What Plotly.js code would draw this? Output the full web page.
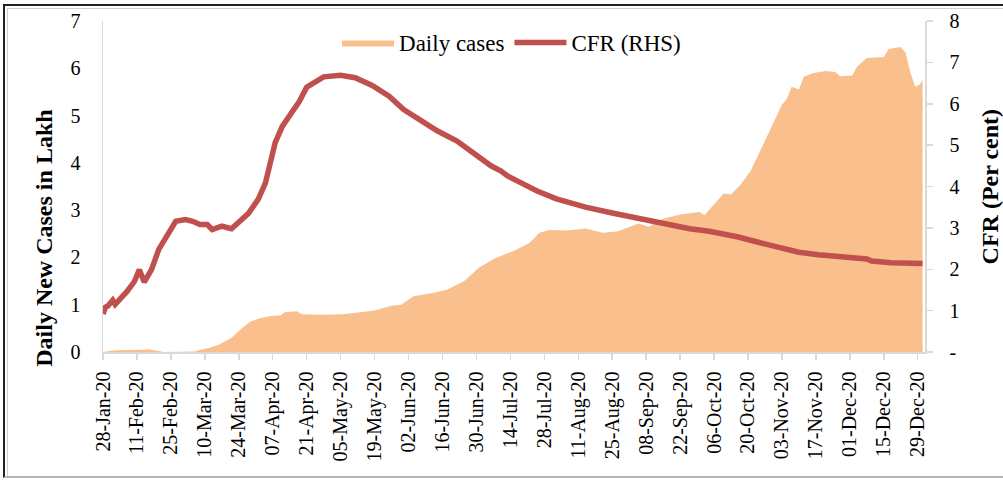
<!DOCTYPE html>
<html>
<head>
<meta charset="utf-8">
<script src="https://cdn.plot.ly/plotly-3.0.1.min.js"></script>
<style>
  html, body { margin: 0; padding: 0; background: #fff; }
  #wrap { position: relative; width: 1003px; height: 483px; }
  #chart { position: absolute; left: 0; top: 0; width: 1003px; height: 483px; }
  .frame-outer { position: absolute; left: 3px; top: 4px; width: 1000px; height: 474px;
    border-top: 2px solid #222; border-left: 2px solid #222; border-bottom: 2px solid #b5b5b5; box-sizing: border-box; pointer-events: none; }
  .frame-inner { position: absolute; left: 7px; top: 8px; width: 996px; height: 468px;
    border-top: 1px solid #cfcfcf; border-left: 1px solid #cfcfcf; box-sizing: border-box; pointer-events: none; }
</style>
</head>
<body>
<div id="wrap">
  <div id="chart"></div>
  <div class="frame-outer"></div>
  <div class="frame-inner"></div>
</div>
<script>
// ---- Data ----
const caseDates = [
  "2020-01-28","2020-02-01","2020-02-06","2020-02-10","2020-02-14","2020-02-16","2020-02-19","2020-02-22",
  "2020-03-06","2020-03-07","2020-03-12","2020-03-16","2020-03-21","2020-03-25","2020-03-29","2020-04-02",
  "2020-04-06","2020-04-10","2020-04-12","2020-04-17","2020-04-19","2020-04-28","2020-05-06","2020-05-12",
  "2020-05-19","2020-05-26","2020-05-30","2020-06-04","2020-06-12","2020-06-18","2020-06-25","2020-07-01",
  "2020-07-07","2020-07-10","2020-07-16","2020-07-22","2020-07-26","2020-07-30","2020-08-06","2020-08-14",
  "2020-08-21","2020-08-27","2020-09-01","2020-09-05","2020-09-09","2020-09-15","2020-09-22","2020-09-30",
  "2020-10-02","2020-10-06","2020-10-10","2020-10-13","2020-10-17","2020-10-21","2020-10-25","2020-10-29",
  "2020-11-03","2020-11-05","2020-11-07","2020-11-10","2020-11-12","2020-11-16","2020-11-21","2020-11-25",
  "2020-11-27","2020-12-02","2020-12-04","2020-12-08","2020-12-15","2020-12-17","2020-12-22","2020-12-24",
  "2020-12-26","2020-12-28","2020-12-30","2020-12-31"
];
const dailyCases = [
  0.00,0.03,0.04,0.04,0.05,0.06,0.03,0.00,
  0.01,0.03,0.09,0.16,0.30,0.49,0.65,0.72,
  0.76,0.77,0.84,0.86,0.80,0.79,0.80,0.83,
  0.88,0.98,1.00,1.18,1.25,1.32,1.50,1.78,
  1.96,2.03,2.15,2.31,2.52,2.58,2.57,2.61,
  2.52,2.55,2.65,2.72,2.65,2.82,2.91,2.96,
  2.89,3.12,3.35,3.33,3.54,3.82,4.25,4.70,
  5.23,5.35,5.61,5.55,5.82,5.90,5.94,5.92,
  5.83,5.85,6.04,6.22,6.24,6.41,6.45,6.33,
  5.90,5.61,5.66,5.76
];

const cfrDates = [
  "2020-01-28","2020-01-29","2020-01-30","2020-02-01","2020-02-02","2020-02-04","2020-02-07","2020-02-10",
  "2020-02-12","2020-02-14","2020-02-17","2020-02-20","2020-02-24","2020-02-27","2020-03-02","2020-03-05",
  "2020-03-08","2020-03-11","2020-03-13","2020-03-17","2020-03-21","2020-03-25","2020-03-28","2020-04-01",
  "2020-04-04","2020-04-06","2020-04-08","2020-04-11","2020-04-15","2020-04-18","2020-04-21","2020-04-28",
  "2020-05-05","2020-05-11","2020-05-18","2020-05-25","2020-05-31","2020-06-07","2020-06-14","2020-06-22",
  "2020-06-29","2020-07-06","2020-07-10","2020-07-13","2020-07-17","2020-07-25","2020-08-02","2020-08-14",
  "2020-08-25","2020-09-05","2020-09-16","2020-09-26","2020-10-04","2020-10-08","2020-10-16","2020-10-25",
  "2020-11-02","2020-11-10","2020-11-18","2020-11-26","2020-12-08","2020-12-10","2020-12-18","2020-12-31"
];
const cfr = [
  0.92,1.08,1.11,1.25,1.15,1.27,1.47,1.71,
  1.99,1.69,1.99,2.48,2.84,3.16,3.20,3.16,
  3.08,3.08,2.96,3.04,2.98,3.20,3.35,3.69,
  4.09,4.57,5.06,5.46,5.82,6.06,6.40,6.65,
  6.69,6.63,6.44,6.18,5.86,5.58,5.34,5.10,
  4.81,4.50,4.38,4.25,4.13,3.89,3.70,3.50,
  3.36,3.22,3.11,2.98,2.92,2.88,2.78,2.64,
  2.52,2.41,2.35,2.30,2.25,2.20,2.16,2.14
];

const tickDates = [
  "2020-01-28","2020-02-11","2020-02-25","2020-03-10","2020-03-24","2020-04-07","2020-04-21","2020-05-05",
  "2020-05-19","2020-06-02","2020-06-16","2020-06-30","2020-07-14","2020-07-28","2020-08-11","2020-08-25",
  "2020-09-08","2020-09-22","2020-10-06","2020-10-20","2020-11-03","2020-11-17","2020-12-01","2020-12-15","2020-12-29"
];
const tickLabels = [
  "28-Jan-20","11-Feb-20","25-Feb-20","10-Mar-20","24-Mar-20","07-Apr-20","21-Apr-20","05-May-20",
  "19-May-20","02-Jun-20","16-Jun-20","30-Jun-20","14-Jul-20","28-Jul-20","11-Aug-20","25-Aug-20",
  "08-Sep-20","22-Sep-20","06-Oct-20","20-Oct-20","03-Nov-20","17-Nov-20","01-Dec-20","15-Dec-20","29-Dec-20"
];
const leftTicks = [0,1,2,3,4,5,6,7];
const rightTicks = [0,1,2,3,4,5,6,7,8];
const rightTickLabels = ["-","1","2","3","4","5","6","7","8"];

// ---- Chart ----
const FONT = '"Liberation Serif", "Times New Roman", serif';
const AXIS_GREY = '#d9d9d9';

const traces = [
  {
    x: caseDates, y: dailyCases, name: 'Daily cases', type: 'scatter', mode: 'lines',
    fill: 'tozeroy', fillcolor: '#F9C08E', line: {width: 0, color: '#F9C08E'},
    yaxis: 'y', hoverinfo: 'x+y'
  },
  {
    x: cfrDates, y: cfr, name: 'CFR (RHS)', type: 'scatter', mode: 'lines',
    line: {width: 5.5, color: '#C0504D'}, yaxis: 'y2'
  }
];

const layout = {
  width: 1003, height: 483,
  margin: {l: 103, r: 78, t: 21, b: 131, pad: 0},
  paper_bgcolor: '#fff', plot_bgcolor: '#fff',
  font: {family: FONT, color: '#000', size: 20},
  showlegend: true,
  legend: {
    orientation: 'h', x: 0.497, xanchor: 'center', y: 0.935, yanchor: 'middle',
    font: {family: FONT, size: 23, color: '#000'}, bgcolor: 'rgba(0,0,0,0)',
    traceorder: 'normal', itemwidth: 52
  },
  xaxis: {
    type: 'date', range: ['2020-01-28', '2021-01-01'],
    tickmode: 'array', tickvals: tickDates, ticktext: tickLabels, tickangle: -90,
    ticks: 'outside', ticklen: 6, tickwidth: 1.5, tickcolor: AXIS_GREY,
    showline: true, linecolor: AXIS_GREY, linewidth: 1.5, showgrid: false, zeroline: false,
    tickfont: {family: FONT, size: 20, color: '#000'}, ticklabelstandoff: 4
  },
  yaxis: {
    range: [0, 7], tickmode: 'array', tickvals: leftTicks, ticktext: leftTicks.map(String),
    showline: true, linecolor: AXIS_GREY, linewidth: 1.5, showgrid: false, zeroline: false,
    ticks: '', tickfont: {family: FONT, size: 20, color: '#000'}, ticklabelstandoff: 17
  },
  yaxis2: {
    overlaying: 'y', side: 'right', range: [0, 8],
    tickmode: 'array', tickvals: rightTicks, ticktext: rightTickLabels,
    ticks: 'outside', ticklen: 6, tickwidth: 1.5, tickcolor: AXIS_GREY,
    showline: true, linecolor: AXIS_GREY, linewidth: 1.5, showgrid: false, zeroline: false,
    tickfont: {family: FONT, size: 20, color: '#000'}, ticklabelstandoff: 13
  },
  annotations: [
    {
      text: '<b>Daily New Cases in Lakh</b>', xref: 'paper', yref: 'paper',
      x: -0.0718, y: 0.345, xanchor: 'center', yanchor: 'middle', textangle: -90,
      showarrow: false, font: {family: FONT, size: 24, color: '#000'}
    },
    {
      text: '<b>CFR (Per cent)</b>', xref: 'paper', yref: 'paper',
      x: 1.079, y: 0.5, xanchor: 'center', yanchor: 'middle', textangle: -90,
      showarrow: false, font: {family: FONT, size: 24, color: '#000'}
    }
  ]
};

Plotly.newPlot('chart', traces, layout, {displayModeBar: false, staticPlot: true});
</script>
</body>
</html>
